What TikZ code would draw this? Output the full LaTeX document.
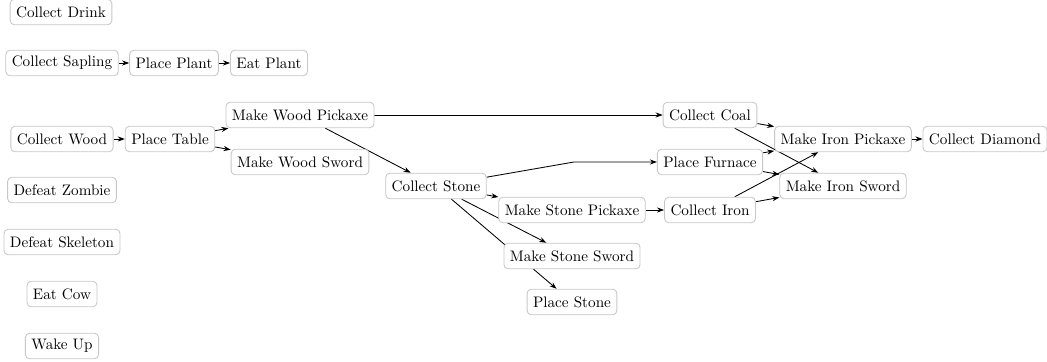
\documentclass[tikz,border=0pt]{standalone}
\usetikzlibrary{arrows.meta,backgrounds}
\begin{document}
\begin{tikzpicture}[x=0.704pt,y=-0.704pt,
  task/.style={draw=black!22, line width=0.6pt, rounded corners=3pt, fill=white,
    inner xsep=4.2pt, inner ysep=0pt, minimum height=18pt,
    font=\fontsize{10.7}{12.8}\selectfont},
  dep/.style={-{Stealth[length=5pt,width=3.6pt]}, line width=0.6pt}]
\useasboundingbox (0,0) rectangle (1047,362);

% tasks without prerequisites
\node[task] (drink)    at (61,12)  {Collect Drink};
\node[task] (zombie)   at (62,190) {Defeat Zombie};
\node[task] (skeleton) at (62,242) {Defeat Skeleton};
\node[task] (cow)      at (62,294) {Eat Cow};
\node[task] (wake)     at (62,346) {Wake Up};

% plant chain
\node[task] (sapling) at (62,63)  {Collect Sapling};
\node[task] (plant)   at (174,63) {Place Plant};
\node[task] (eatpl)   at (269,63) {Eat Plant};

% wood, stone and iron chain
\node[task] (wood)    at (62,139)  {Collect Wood};
\node[task] (table)   at (170,139) {Place Table};
\node[task] (wpick)   at (300,115) {Make Wood Pickaxe};
\node[task] (wsword)  at (300,162) {Make Wood Sword};
\node[task] (stone)   at (436,186) {Collect Stone};
\node[task] (spick)   at (572,210) {Make Stone Pickaxe};
\node[task] (ssword)  at (572,256) {Make Stone Sword};
\node[task] (pstone)  at (572,302) {Place Stone};
\node[task] (coal)    at (710,115) {Collect Coal};
\node[task] (furnace) at (710,162) {Place Furnace};
\node[task] (iron)    at (710,210) {Collect Iron};
\node[task] (ipick)   at (843,139) {Make Iron Pickaxe};
\node[task] (isword)  at (843,186) {Make Iron Sword};
\node[task] (diamond) at (985,139) {Collect Diamond};

\coordinate (kink) at (574,162);

\begin{pgfonlayer}{background}
\draw[dep] (sapling) -- (plant);
\draw[dep] (plant) -- (eatpl);
\draw[dep] (wood) -- (table);
\draw[dep] (table) -- (wpick);
\draw[dep] (table) -- (wsword);
\draw[dep] (wpick) -- (coal);
\draw[dep] (wpick) -- (stone);
\draw[dep] (stone) -- (kink) -- (furnace);
\draw[dep] (stone) -- (spick);
\draw[dep] (stone) -- (ssword);
\draw[dep] (stone) -- (pstone);
\draw[dep] (spick) -- (iron);
\draw[dep] (coal) -- (ipick);
\draw[dep] (coal) -- (isword);
\draw[dep] (furnace) -- (ipick);
\draw[dep] (furnace) -- (isword);
\draw[dep] (iron) -- (ipick);
\draw[dep] (iron) -- (isword);
\draw[dep] (ipick) -- (diamond);
\end{pgfonlayer}
\end{tikzpicture}
\end{document}
